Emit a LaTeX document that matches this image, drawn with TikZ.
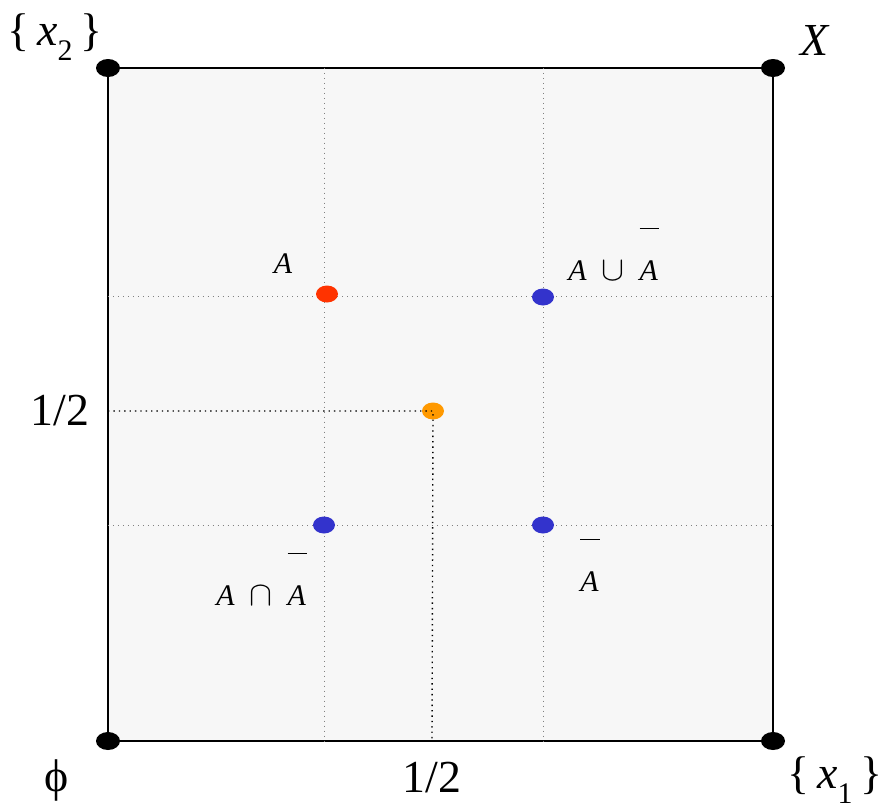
\documentclass[tikz,border=0pt]{standalone}
\usepackage{fontspec}
\setmainfont{Liberation Serif}
\usetikzlibrary{shapes.geometric}
\definecolor{boxfill}{RGB}{247,247,247}
\definecolor{dotred}{RGB}{255,51,0}
\definecolor{dotblue}{RGB}{51,51,204}
\definecolor{dotorange}{RGB}{255,153,0}
\newcommand{\farbar}[1]{\rlap{\raisebox{1.72em}{\rule{0.66em}{0.03em}}}\textit{#1}}
\newcommand{\bigop}[1]{{\fontsize{18}{18}\selectfont$#1$}}
\newcommand{\singleton}[1]{\{\,\textit{x}\raisebox{-0.32em}{\fontsize{15}{17}\selectfont #1}\,\}}

\begin{document}
\begin{tikzpicture}[
  x=0.5bp, y=-0.5bp,
  every node/.style={font=\fontsize{23}{27}\selectfont, inner sep=0pt},
  setlabel/.style={font=\fontsize{15}{18}\selectfont},
  corner/.style={ellipse, fill=black, minimum width=12bp, minimum height=9bp},
  pt/.style={ellipse, fill=#1, minimum width=11bp, minimum height=8.5bp},
  grid/.style={gray, dotted, line width=0.5pt},
  guide/.style={black, dotted, line width=0.7pt}
]
  \useasboundingbox (0,0) rectangle (884,807);

  % frame
  \coordinate (sw) at (108,741);
  \coordinate (ne) at (773,68);
  \filldraw[fill=boxfill, line width=1pt] (sw) rectangle (ne);

  % grid lines
  \coordinate (gx1t) at (324,68);  \coordinate (gx1b) at (324,741);
  \coordinate (gx2t) at (543,68);  \coordinate (gx2b) at (543,741);
  \coordinate (gy1l) at (108,296); \coordinate (gy1r) at (773,296);
  \coordinate (gy2l) at (108,525); \coordinate (gy2r) at (773,525);
  \draw[grid] (gx1t) -- (gx1b);
  \draw[grid] (gx2t) -- (gx2b);
  \draw[grid] (gy1l) -- (gy1r);
  \draw[grid] (gy2l) -- (gy2r);

  % guides to the middle point
  \coordinate (midl) at (108,411);
  \coordinate (midb) at (432,741);
  \node[pt=dotorange] (half) at (433,411) {};
  \draw[guide] (midl) -- (half.center) -- (midb);

  % corners
  \node[corner] (empty) at (108,741) {};
  \node[corner] (x1)    at (773,741) {};
  \node[corner] (x2)    at (108,68)  {};
  \node[corner] (full)  at (773,68)  {};

  % points
  \node[pt=dotred]  (a)     at (327,294) {};
  \node[pt=dotblue] (aucup) at (543,297) {};
  \node[pt=dotblue] (acap)  at (324,525) {};
  \node[pt=dotblue] (abar)  at (543,525) {};

  % labels
  \node at (55,37)   {\singleton{2}};
  \node at (815,40)  {\textit{X}};
  \node at (57,780)  {ϕ};
  \node at (835,780) {\singleton{1}};
  \node at (60,411)  {1/2};
  \node at (432,778) {1/2};
  \node[setlabel, anchor=base] at (283,273) {\textit{A}};
  \node[setlabel, anchor=base west] at (568,280) {\textit{A}\ \ \bigop{\cup}\ \ \farbar{A}};
  \node[setlabel, anchor=base west] at (216,605) {\textit{A}\ \ \bigop{\cap}\ \ \farbar{A}};
  \node[setlabel, anchor=base west] at (580,591) {\farbar{A}};
\end{tikzpicture}
\end{document}
